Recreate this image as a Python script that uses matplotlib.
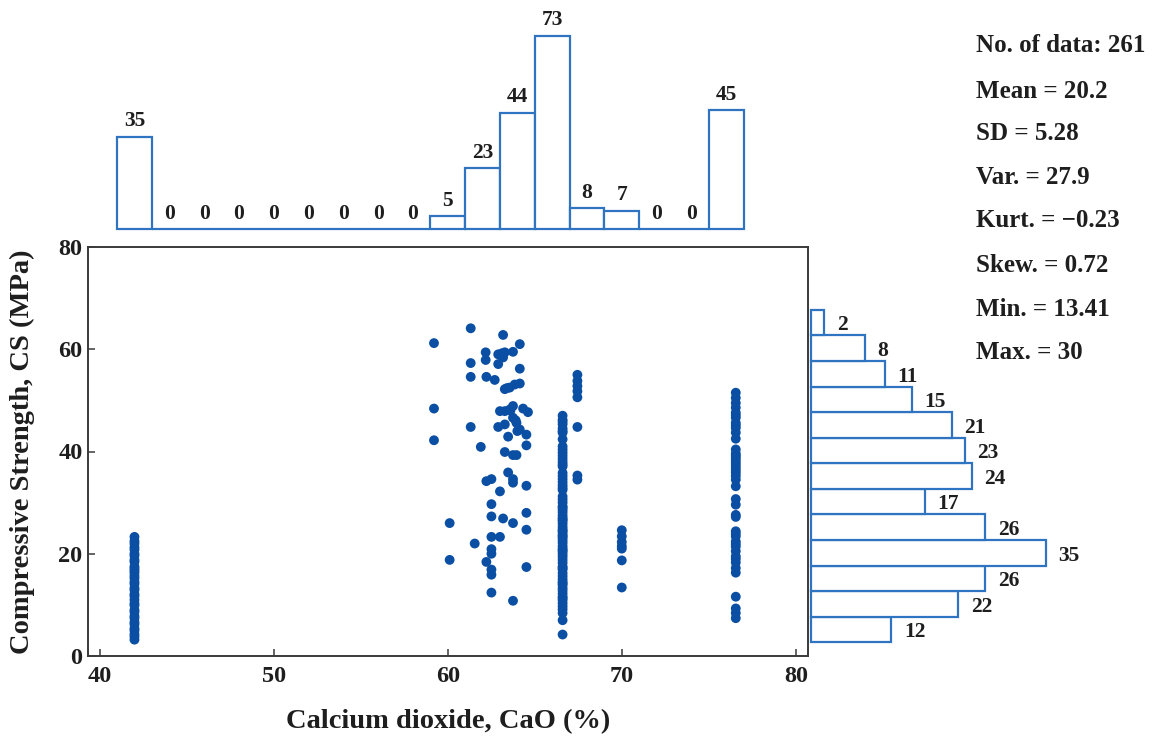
import matplotlib
matplotlib.use("Agg")
import matplotlib.pyplot as plt
import numpy as np

# ---- scatter data: CaO content (%) vs compressive strength (MPa) ----
cao_42 = [23.3, 22.5, 22.0, 21.3, 20.8, 20.0, 19.6, 18.8, 18.4, 17.5, 17.1, 16.7,
          16.3, 15.7, 15.2, 14.5, 14.1, 13.3, 12.9, 12.1, 11.7, 11.0, 10.3, 9.9,
          9.0, 8.6, 7.8, 7.4, 6.6, 6.2, 5.4, 5.0, 4.3, 3.8, 3.2]

cluster_x = [61.32, 63.18, 59.21, 64.14, 62.18, 62.90, 63.28, 63.75, 62.18, 61.32,
             62.90, 63.18, 64.14, 61.32, 62.22, 63.28, 63.56, 63.85, 64.14, 59.21,
             63.00, 63.28, 63.56, 63.75, 64.33, 64.61, 63.75, 63.95, 61.32, 62.90,
             63.28, 64.14, 64.52, 63.47, 59.21, 61.90, 64.52, 63.28, 63.75, 63.95,
             63.47, 63.75, 63.75, 62.22, 62.51, 64.52, 63.00, 62.51, 64.52, 60.11,
             62.51, 63.18, 63.75, 64.52, 62.51, 63.00, 61.55, 62.51, 62.51, 60.11,
             62.22, 62.51, 62.51, 64.52, 62.51, 63.75, 63.40, 63.60, 63.10, 63.90,
             62.70, 64.00]
cluster_y = [64.1, 62.8, 61.2, 61.0, 59.4, 59.0, 59.4, 59.5, 57.9, 57.3,
             57.1, 58.4, 56.2, 54.6, 54.6, 52.2, 52.5, 53.1, 53.3, 48.4,
             47.9, 47.9, 48.2, 48.9, 48.4, 47.7, 46.6, 45.6, 44.8, 44.8,
             45.3, 44.3, 43.3, 42.9, 42.2, 40.9, 41.2, 39.9, 39.3, 39.3,
             35.9, 34.6, 33.9, 34.2, 34.6, 33.3, 32.2, 29.7, 28.0, 26.0,
             27.3, 26.9, 26.0, 24.7, 23.3, 23.3, 22.0, 20.9, 20.0, 18.8,
             18.4, 16.9, 15.9, 17.4, 12.4, 10.8, 52.4, 48.0, 59.2, 46.1,
             54.0, 44.0]

cao_666 = [47.0, 46.2, 45.8, 45.3, 44.5, 44.0, 43.7, 42.4, 41.0, 40.4, 39.8, 39.2,
           38.6, 38.0, 37.5, 37.1, 35.8, 35.2, 34.6, 34.0, 33.4, 32.9, 32.5, 31.2,
           30.6, 30.0, 29.3, 29.0, 28.6, 28.1, 27.5, 27.0, 26.7, 26.4, 25.9, 25.3,
           24.8, 24.5, 24.2, 23.7, 23.4, 23.1, 22.6, 22.1, 21.5, 21.0, 20.7, 20.4,
           19.9, 19.4, 18.8, 18.2, 17.5, 17.2, 16.9, 16.2, 15.6, 15.0, 14.5, 14.2,
           13.9, 13.3, 12.8, 12.2, 11.6, 11.3, 10.9, 10.3, 9.7, 9.1, 8.4, 7.0, 4.2]

cao_674 = [55.0, 53.8, 52.8, 51.8, 50.6, 44.8, 35.3, 34.5]

cao_70 = [24.6, 23.4, 22.3, 21.5, 21.0, 18.7, 13.4]

cao_765 = [51.5, 50.5, 49.5, 48.6, 47.6, 47.1, 46.6, 45.6, 45.1, 44.6, 43.7, 42.5,
           40.4, 39.6, 39.2, 38.8, 38.3, 37.8, 37.3, 36.8, 36.3, 35.8, 35.2, 34.5,
           33.2, 30.7, 29.6, 27.6, 27.2, 24.4, 23.9, 23.4, 22.4, 21.9, 21.4, 20.5,
           19.5, 19.0, 18.3, 17.2, 16.3, 11.6, 9.3, 8.4, 7.4]

# ---- marginal histograms ----
cao_edges = [41, 43, 45, 47, 49, 51, 53, 55, 57, 59, 61, 63, 65, 67, 69, 71, 73, 75, 77]
cao_counts = [35, 0, 0, 0, 0, 0, 0, 0, 0, 5, 23, 44, 73, 8, 7, 0, 0, 45]

cs_edges = [2.7, 7.7, 12.7, 17.7, 22.7, 27.7, 32.7, 37.7, 42.7, 47.7, 52.7, 57.7, 62.7, 67.7]
cs_counts = [12, 22, 26, 35, 26, 17, 24, 23, 21, 15, 11, 8, 2]

stats_lines = ["No. of data: 261", "Mean = 20.2", "SD = 5.28", "Var. = 27.9",
               "Kurt. = \u22120.23", "Skew. = 0.72", "Min. = 13.41", "Max. = 30"]

x_ticks = [40, 50, 60, 70, 80]
y_ticks = [0, 20, 40, 60, 80]

# ---- style ----
SERIF = ["Liberation Serif", "DejaVu Serif"]
DOT = "#0a4fa3"
EDGE = "#2f74c0"
TXT = "#1e1e1e"
SPINE = "#3a3a3a"

W, H = 1161, 742
fig = plt.figure(figsize=(W / 100, H / 100), dpi=100)

def frac(l, t, r, b):
    return [l / W, 1 - b / H, (r - l) / W, (b - t) / H]

ax = fig.add_axes(frac(88, 247, 808, 656))
ax_top = fig.add_axes(frac(88, 0, 808, 229.3), sharex=ax)
ax_right = fig.add_axes(frac(811, 247, 1161, 656), sharey=ax)

# scatter
groups = [([42.0] * len(cao_42), cao_42),
          (cluster_x, cluster_y),
          ([66.6] * len(cao_666), cao_666),
          ([67.45] * len(cao_674), cao_674),
          ([70.0] * len(cao_70), cao_70),
          ([76.55] * len(cao_765), cao_765)]
for gx, gy in groups:
    ax.scatter(gx, gy, s=50, color=DOT, edgecolors="none", zorder=3)

ax.set_xlim(39.33, 80.7)
ax.set_ylim(0, 80)
ax.set_xticks(x_ticks)
ax.set_yticks(y_ticks)
ax.tick_params(direction="in", length=5, width=1.1, color=SPINE,
               labelsize=17.5, labelcolor=TXT, top=False, right=False)
ax.tick_params(axis="x", pad=7)
ax.tick_params(axis="y", pad=4)
for lab in ax.get_xticklabels() + ax.get_yticklabels():
    lab.set_fontfamily(SERIF)
    lab.set_fontweight("bold")
for sp in ax.spines.values():
    sp.set_color(SPINE)
    sp.set_linewidth(1.4)

ax.set_xlabel("Calcium dioxide, CaO (%)", fontsize=20.5, fontweight="bold",
              family=SERIF, color=TXT, va="center")
ax.xaxis.set_label_coords(0.5, -0.161)
ax.set_ylabel("Compressive Strength, CS (MPa)", fontsize=20.5, fontweight="bold",
              family=SERIF, color=TXT, va="center")
ax.yaxis.set_label_coords(-0.0917, 0.499)

# top histogram (CaO)
cao_left = np.array(cao_edges[:-1])
cao_w = np.diff(cao_edges)
ax_top.bar(cao_left, cao_counts, width=cao_w, align="edge", facecolor="white",
           edgecolor=EDGE, linewidth=1.6, clip_on=False)
ax_top.set_ylim(0, 229.3 / 2.648)
for xl, w, c in zip(cao_left, cao_w, cao_counts):
    ax_top.annotate(str(c), (xl + w / 2, c), xytext=(0, 4), textcoords="offset points",
                    ha="center", va="bottom", fontsize=15.5, fontweight="bold",
                    family=SERIF, color=TXT, annotation_clip=False)
ax_top.axis("off")

# right histogram (CS)
cs_bottom = np.array(cs_edges[:-1])
cs_h = np.diff(cs_edges)
ax_right.barh(cs_bottom, cs_counts, height=cs_h, align="edge", facecolor="white",
              edgecolor=EDGE, linewidth=1.6, clip_on=False)
ax_right.set_xlim(0, 350 / 6.7)
for yb, h, c in zip(cs_bottom, cs_h, cs_counts):
    ax_right.annotate(str(c), (c, yb + h / 2), xytext=(9, -2), textcoords="offset points",
                      ha="left", va="center", fontsize=15.5, fontweight="bold",
                      family=SERIF, color=TXT, annotation_clip=False)
ax_right.axis("off")

# summary statistics
ys = [46, 91, 134, 178, 221, 266, 309, 352]
for yy, s in zip(ys, stats_lines):
    fig.text(976 / W, 1 - yy / H, s, ha="left", va="center", fontsize=18,
             fontweight="bold", family=SERIF, color=TXT)

fig.savefig("out.png", dpi=100)
